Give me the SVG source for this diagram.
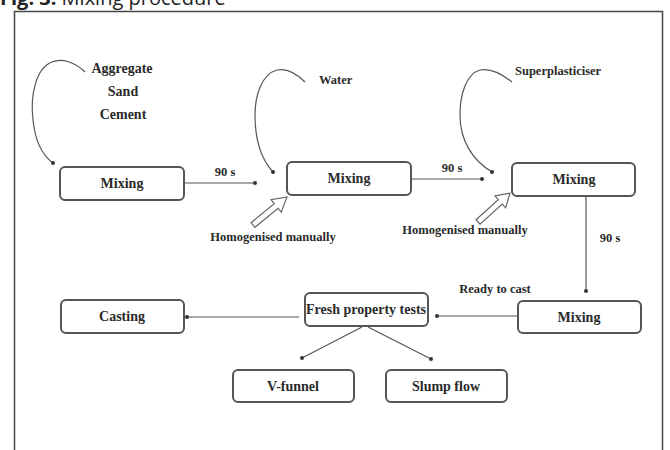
<svg xmlns="http://www.w3.org/2000/svg" width="670" height="450" viewBox="0 0 670 450">
<defs>
<style>
.box{fill:#fff;stroke:#555;stroke-width:2}
.bt{font-family:"Liberation Serif","Times New Roman",serif;font-weight:bold;font-size:14px;fill:#2a2a2a;text-anchor:middle}
.lb{font-family:"Liberation Serif","Times New Roman",serif;font-weight:bold;font-size:12.5px;fill:#2a2a2a}
.ln{fill:none;stroke:#555;stroke-width:1.2}
.hol{fill:#fff;stroke:#666;stroke-width:1.2}
</style>
<marker id="dot" viewBox="0 0 6 6" refX="3" refY="3" markerWidth="4" markerHeight="4" markerUnits="userSpaceOnUse">
<circle cx="3" cy="3" r="3" fill="#333"/>
</marker>
</defs>
<rect width="670" height="450" fill="#fff"/>
<text x="0" y="5" font-family="'Open Sans','Liberation Sans',sans-serif" font-size="20" fill="#222"><tspan font-weight="bold">Fig. 3:</tspan> Mixing procedure</text>
<rect x="14.5" y="11.5" width="648" height="460" fill="none" stroke="#444" stroke-width="1.5"/>

<g id="connectors">
<path class="ln" d="M85,72 C75,62 62,58 52,62 C36,68 30,95 33,120 C35,140 42,155 53,163" marker-end="url(#dot)"/>
<path class="ln" d="M305,82 C297,74 287,68 277,70 C262,74 255,95 255,115 C255,140 262,160 273,172" marker-end="url(#dot)"/>
<path class="ln" d="M512,82 C502,74 490,68 480,70 C466,74 460,95 460,115 C460,140 472,160 492,172" marker-end="url(#dot)"/>
<path class="ln" d="M184,183 L255,183" marker-end="url(#dot)"/>
<path class="ln" d="M411,179 L482,179" marker-end="url(#dot)"/>
<path class="ln" d="M586,196 L586,291" marker-end="url(#dot)"/>
<path class="ln" d="M518,316 L437,316" marker-end="url(#dot)"/>
<path class="ln" d="M299,317 L187,317" marker-end="url(#dot)"/>
<path class="ln" d="M362,327 L302,358" marker-end="url(#dot)"/>
<path class="ln" d="M368,327 L431,359" marker-end="url(#dot)"/>
<polygon class="hol" points="0,-3 30,-3 30,-8 44,0 30,8 30,3 0,3" transform="translate(253,225) rotate(-39.5)"/>
<polygon class="hol" points="0,-3 30,-3 30,-8 43,0 30,8 30,3 0,3" transform="translate(478,222) rotate(-42)"/>
<text class="lb" x="225" y="176" text-anchor="middle">90 s</text>
<text class="lb" x="452" y="172" text-anchor="middle">90 s</text>
<text class="lb" x="610" y="242" text-anchor="middle">90 s</text>
<text class="lb" x="495" y="293" text-anchor="middle">Ready to cast</text>
<text class="lb" x="273" y="241" text-anchor="middle">Homogenised manually</text>
<text class="lb" x="465" y="234" text-anchor="middle">Homogenised manually</text>
</g>

<g id="inputs">
<text class="bt" x="122" y="73" font-size="13">Aggregate</text>
<text class="bt" x="123" y="96" font-size="13">Sand</text>
<text class="bt" x="123" y="119" font-size="13">Cement</text>
<text class="lb" x="319" y="84" font-size="13">Water</text>
<text class="lb" x="515" y="75">Superplasticiser</text>
</g>

<g id="mixing1"><rect class="box" x="60" y="167" width="124" height="33" rx="5"/><text class="bt" x="122" y="188">Mixing</text></g>
<g id="mixing2"><rect class="box" x="287" y="162" width="124" height="33" rx="5"/><text class="bt" x="349" y="183">Mixing</text></g>
<g id="mixing3"><rect class="box" x="512" y="163" width="123" height="33" rx="5"/><text class="bt" x="574" y="184">Mixing</text></g>
<g id="mixing4"><rect class="box" x="518" y="301" width="123" height="32" rx="5"/><text class="bt" x="579" y="322">Mixing</text></g>
<g id="fresh"><rect class="box" x="305" y="293" width="123" height="33" rx="5"/><text class="bt" x="366" y="314" font-size="13">Fresh property tests</text></g>
<g id="casting"><rect class="box" x="61" y="300" width="123" height="33" rx="5"/><text class="bt" x="122" y="321">Casting</text></g>
<g id="vfunnel"><rect class="box" x="233" y="370" width="121" height="32" rx="5"/><text class="bt" x="293" y="391">V-funnel</text></g>
<g id="slump"><rect class="box" x="386" y="370" width="121" height="32" rx="5"/><text class="bt" x="446" y="391">Slump flow</text></g>
</svg>
